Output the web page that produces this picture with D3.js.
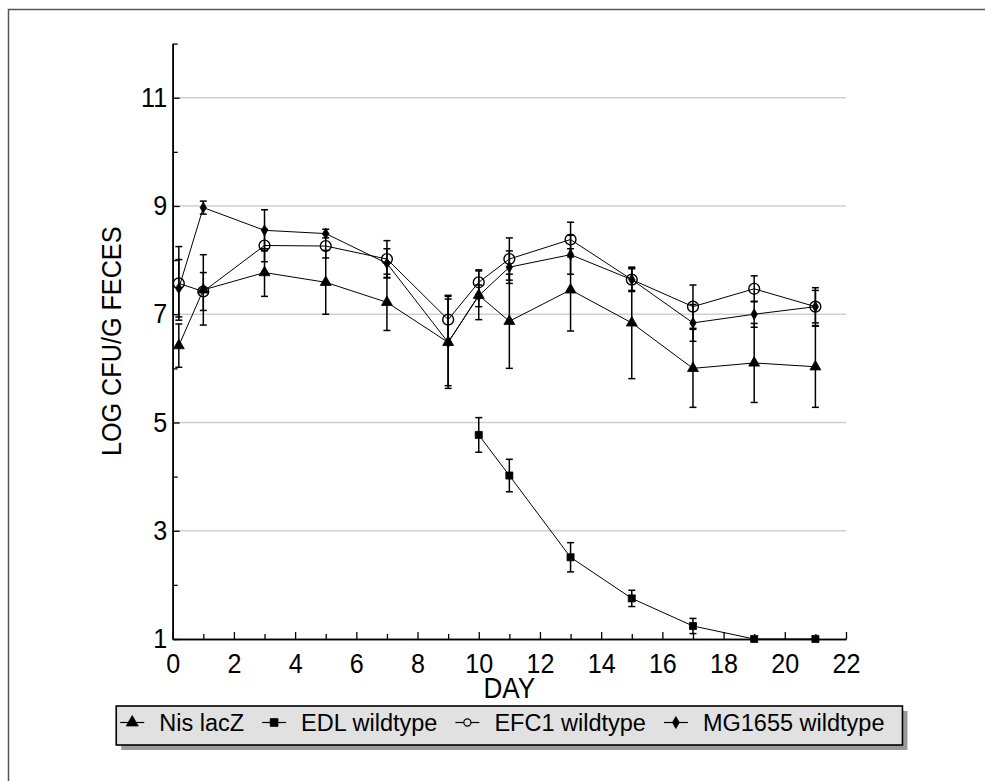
<!DOCTYPE html>
<html>
<head>
<meta charset="utf-8">
<script src="https://cdn.jsdelivr.net/npm/d3@7"></script>
<style>
body { margin: 0; background: #fff; }
svg { display: block; font-family: "Liberation Sans", Arial, sans-serif; }
</style>
</head>
<body>
<svg id="chart" width="985" height="781"></svg>
<script>
// data
var days = [0.2, 1, 3, 5, 7, 9, 10, 11, 13, 15, 17, 19, 21];
var nisLacZ = [6.42, 7.45, 7.77, 7.59, 7.22, 6.48, 7.35, 6.87, 7.45, 6.84, 6.00, 6.10, 6.03];
var nisErr  = [0.40, 0.65, 0.44, 0.59, 0.52, 0.85, 0.45, 0.87, 0.76, 1.03, 0.72, 0.73, 0.75];
var efc1    = [7.57, 7.42, 8.27, 8.26, 8.02, 6.90, 7.59, 8.02, 8.38, 7.64, 7.14, 7.47, 7.14];
var efcErr  = [0.68, 0.35, 0.30, 0.22, 0.34, 0.45, 0.23, 0.39, 0.32, 0.20, 0.40, 0.24, 0.30];
var mg1655  = [7.48, 8.97, 8.55, 8.49, 7.94, 6.48, 7.34, 7.87, 8.10, 7.64, 6.84, 7.00, 7.14];
var mgErr   = [0.53, 0.12, 0.38, 0.08, 0.27, 0.80, 0.20, 0.30, 0.36, 0.22, 0.34, 0.24, 0.35];
var edlDays = [10, 11, 13, 15, 17, 19, 21];
var edl     = [4.77, 4.02, 2.51, 1.75, 1.24, 1.00, 1.00];
var edlErr  = [0.32, 0.30, 0.27, 0.15, 0.14, 0, 0];

var xTicksMajor = [0, 2, 4, 6, 8, 10, 12, 14, 16, 18, 20, 22];
var xTicksMinor = [1, 3, 5, 7, 9, 11, 13, 15, 17, 19, 21];
var yTicksMajor = [1, 3, 5, 7, 9, 11];
var yTicksMinor = [2, 4, 6, 8, 10, 12];

var seriesNames = ['Nis lacZ', 'EDL wildtype', 'EFC1 wildtype', 'MG1655 wildtype'];

var svg = d3.select('#chart');

var x = d3.scaleLinear().domain([0, 22]).range([172.7, 846]);
var y = d3.scaleLinear().domain([1, 12]).range([639, 43.6]);

// frame (only top/left edges fall inside the picture)
svg.append('rect')
  .attr('x', 8.5).attr('y', 9.5)
  .attr('width', 1200).attr('height', 1200)
  .attr('fill', 'none')
  .attr('stroke', '#555')
  .attr('stroke-width', 1.5);

// gridlines
svg.append('g').selectAll('line')
  .data(yTicksMajor.slice(1))
  .enter().append('line')
  .attr('x1', x(0)).attr('x2', x(22))
  .attr('y1', function(d) { return y(d); })
  .attr('y2', function(d) { return y(d); })
  .attr('stroke', '#cfcfcf')
  .attr('stroke-width', 1.5);

// axes
function styleAxis(g) {
  g.select('.domain').attr('stroke', '#000').attr('stroke-width', 1.6);
  g.selectAll('.tick line').attr('stroke', '#000').attr('stroke-width', 1.3);
  g.selectAll('.tick text')
    .attr('fill', '#000')
    .style('font-size', '27px')
    .attr('transform', 'scale(0.93,1)');
}

var xMinor = d3.axisBottom(x).tickValues(xTicksMinor).tickSizeInner(-5).tickSizeOuter(0).tickFormat('');
var xMajor = d3.axisBottom(x).tickValues(xTicksMajor).tickSizeInner(-7).tickSizeOuter(0)
  .tickPadding(15).tickFormat(d3.format('d'));
var yMinor = d3.axisLeft(y).tickValues(yTicksMinor).tickSizeInner(-5).tickSizeOuter(0).tickFormat('');
var yMajor = d3.axisLeft(y).tickValues(yTicksMajor).tickSizeInner(-7).tickSizeOuter(0)
  .tickPadding(6).tickFormat(d3.format('d'));

svg.append('g').attr('transform', 'translate(0,' + y(1) + ')').call(xMinor).call(styleAxis);
svg.append('g').attr('transform', 'translate(0,' + y(1) + ')').call(xMajor).call(styleAxis)
  .attr('font-family', null);
svg.append('g').attr('transform', 'translate(' + x(0) + ',0)').call(yMinor).call(styleAxis);
svg.append('g').attr('transform', 'translate(' + x(0) + ',0)').call(yMajor).call(styleAxis)
  .attr('font-family', null);

// axis titles
svg.append('text')
  .attr('transform', 'translate(' + (x(0) + x(22)) / 2 + ',698) scale(0.9,1)')
  .attr('text-anchor', 'middle')
  .style('font-size', '29px')
  .text('DAY');

svg.append('text')
  .attr('transform', 'translate(121,' + (y(1) + y(12)) / 2 + ') rotate(-90) scale(0.9,1)')
  .attr('text-anchor', 'middle')
  .style('font-size', '28px')
  .text('LOG CFU/G FECES');

// series
function zip(xs, ys, es) {
  return xs.map(function(d, i) { return {x: d, y: ys[i], e: es[i]}; });
}

var series = [
  {name: seriesNames[0], pts: zip(days, nisLacZ, nisErr), type: d3.symbolTriangle, size: 52, fill: '#000'},
  {name: seriesNames[1], pts: zip(edlDays, edl, edlErr), type: d3.symbolSquare, size: 50, fill: '#000'},
  {name: seriesNames[2], pts: zip(days, efc1, efcErr), type: d3.symbolCircle, size: 92, fill: 'none'},
  {name: seriesNames[3], pts: zip(days, mg1655, mgErr), type: d3.symbolDiamond, size: 34, fill: '#000'}
];

var line = d3.line()
  .x(function(d) { return x(d.x); })
  .y(function(d) { return y(d.y); });

var plot = svg.append('g');

series.forEach(function(s) {
  plot.append('path')
    .datum(s.pts)
    .attr('d', line)
    .attr('fill', 'none')
    .attr('stroke', '#000')
    .attr('stroke-width', 1);
});

series.forEach(function(s) {
  var eb = plot.append('g').selectAll('g')
    .data(s.pts.filter(function(d) { return d.e > 0; }))
    .enter().append('g')
    .attr('stroke', '#000')
    .attr('stroke-width', 1.5);
  eb.append('line')
    .attr('x1', function(d) { return x(d.x); })
    .attr('x2', function(d) { return x(d.x); })
    .attr('y1', function(d) { return y(d.y - d.e); })
    .attr('y2', function(d) { return y(d.y + d.e); });
  [-1, 1].forEach(function(sign) {
    eb.append('line')
      .attr('x1', function(d) { return x(d.x) - 3.5; })
      .attr('x2', function(d) { return x(d.x) + 3.5; })
      .attr('y1', function(d) { return y(d.y + sign * d.e); })
      .attr('y2', function(d) { return y(d.y + sign * d.e); });
  });
});

series.forEach(function(s) {
  plot.append('g').selectAll('path')
    .data(s.pts)
    .enter().append('path')
    .attr('transform', function(d) { return 'translate(' + x(d.x) + ',' + y(d.y) + ')'; })
    .attr('d', d3.symbol().type(s.type).size(s.size))
    .attr('fill', s.fill)
    .attr('stroke', '#000')
    .attr('stroke-width', s.fill === 'none' ? 1.4 : 0.8);
});

// legend
var legTop = 706, legH = 39, legMidY = 722.5;
var legend = svg.append('g');
var shadow = legend.append('rect').attr('fill', '#999');
var box = legend.append('rect').attr('fill', '#e1e1e1').attr('stroke', '#000').attr('stroke-width', 1.6);
var items = legend.append('g');

var cx = 4;
series.forEach(function(s, i) {
  var it = items.append('g');
  it.append('line')
    .attr('x1', cx).attr('x2', cx + 24)
    .attr('y1', legMidY).attr('y2', legMidY)
    .attr('stroke', '#000').attr('stroke-width', 1.2);
  it.append('path')
    .attr('transform', 'translate(' + (cx + 12) + ',' + legMidY + ')')
    .attr('d', d3.symbol().type(s.type).size(s.type === d3.symbolCircle ? 40 : s.size * 1.2))
    .attr('fill', s.fill === 'none' ? '#e1e1e1' : s.fill)
    .attr('stroke', '#000')
    .attr('stroke-width', s.fill === 'none' ? 1.2 : 0.8);
  var t = it.append('text')
    .attr('x', cx + 39)
    .attr('y', 730.7)
    .style('font-size', '23.5px')
    .text(s.name);
  cx += 39 + t.node().getComputedTextLength() + 18;
});
var legW = cx - 18 + 18;
var legX = (x(0) + x(22)) / 2 - legW / 2;
items.attr('transform', 'translate(' + legX + ',0)');
box.attr('x', legX).attr('y', legTop).attr('width', legW).attr('height', legH);
shadow.attr('x', legX + 5).attr('y', legTop + 5).attr('width', legW).attr('height', legH);
</script>
</body>
</html>
